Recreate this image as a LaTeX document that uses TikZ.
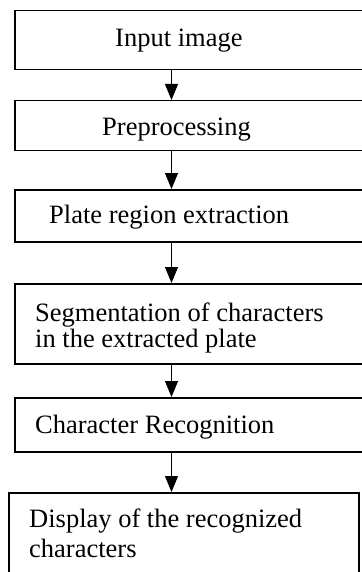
\documentclass[tikz,border=0pt]{standalone}
\usepackage{fontspec}
\setmainfont{Liberation Serif}
\usetikzlibrary{arrows.meta}
\begin{document}
\begin{tikzpicture}[x=1pt,y=-1pt]
\pgfmathsetmacro{\kax}{171.5}
\tikzset{kbox/.style={draw,line width=1.5pt,rectangle,inner sep=0pt,anchor=north west},
ktxt/.style={anchor=base west,inner sep=0pt,font=\fontsize{26.5}{30}\selectfont},
karr/.style={line width=1pt,-{Triangle[width=13pt,length=16pt]}}}
\useasboundingbox(0,0)rectangle(361,572);
\coordinate(ax) at (\kax,0);
\foreach \kn/\kl/\kt/\kr/\kb in {b1/14/10/366/69,b2/14/100/366/150,b3/14/189/366/241,b4/14/283/366/363,b5/14/397/366/451,b6/8/492/358/600}{
\pgfmathsetmacro{\kw}{\kr-\kl}
\pgfmathsetmacro{\kh}{\kb-\kt}
\node[kbox,minimum width=\kw pt,minimum height=\kh pt](\kn) at (\kl,\kt){};}
\node[ktxt](t1) at (115,47){Input image};
\node[ktxt](t2) at (102,136){Preprocessing};
\node[ktxt](t3) at (49,223){Plate region extraction};
\node[ktxt](t4a) at (35,321){Segmentation of characters};
\node[ktxt](t4b) at (35,347){in the extracted plate};
\node[ktxt](t5) at (35,433){Character Recognition};
\node[ktxt](t6a) at (29,527){Display of the recognized};
\node[ktxt](t6b) at (29,557){characters};
\foreach \ka/\kb in {b1/b2,b2/b3,b3/b4,b4/b5,b5/b6}{\draw[karr](\ka.south -| ax)--(\kb.north -| ax);}
\end{tikzpicture}
\end{document}
